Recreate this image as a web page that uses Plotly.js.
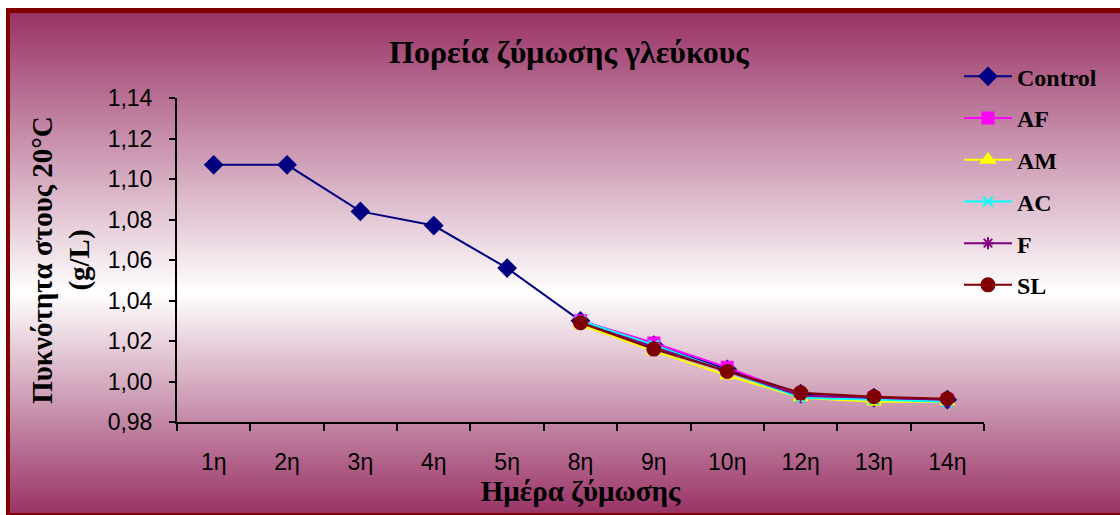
<!DOCTYPE html>
<html>
<head>
<meta charset="utf-8">
<script src="https://cdn.plot.ly/plotly-3.0.1.min.js"></script>
<style>
  html, body { margin: 0; padding: 0; background: #ffffff; width: 1120px; height: 515px; overflow: hidden; }
  #frame {
    position: absolute; left: 6px; top: 8px; width: 1120px; height: 500px;
    border-top: 5px solid #800000; border-left: 4px solid #800000; border-bottom: 2px solid #800000;
    background: linear-gradient(to bottom, #993366 0%, #ffffff 56%, #993366 100%);
    box-sizing: content-box;
  }
  #chart { position: absolute; left: 0; top: 0; width: 1120px; height: 515px; }
</style>
</head>
<body>
<div id="frame"></div>
<div id="chart"></div>
<script>
// Fermentation days
const days = ['1η', '2η', '3η', '4η', '5η', '8η', '9η', '10η', '12η', '13η', '14η'];

// Must density at 20°C (g/L) per treatment
const control = [1.107, 1.107, 1.084, 1.077, 1.056, 1.030, 1.018, 1.006, 0.994, 0.992, 0.991];
const af = [null, null, null, null, null, 1.030, 1.019, 1.007, 0.993, 0.992, 0.991];
const am = [null, null, null, null, null, 1.028, 1.015, 1.003, 0.992, 0.990, 0.990];
const ac = [null, null, null, null, null, 1.030, 1.018, 1.005, 0.992, 0.991, 0.990];
const f  = [null, null, null, null, null, 1.029, 1.017, 1.005, 0.993, 0.992, 0.991];
const sl = [null, null, null, null, null, 1.029, 1.016, 1.005, 0.9945, 0.9925, 0.9915];

const yTicks = [0.98, 1.00, 1.02, 1.04, 1.06, 1.08, 1.10, 1.12, 1.14];

const serif = 'Liberation Serif, Times New Roman, serif';
const sans = 'Liberation Sans, Arial, sans-serif';

function series(name, y, color, symbol, size, group) {
  return {
    type: 'scatter', mode: 'lines+markers', name: name, x: days, y: y,
    legendgroup: group,
    line: { color: color, width: 2 },
    marker: { color: color, symbol: symbol, size: size, line: { color: color, width: 2 } },
    connectgaps: false, hoverinfo: 'skip'
  };
}

const traces = [
  series('Control', control, '#000080', 'diamond', 13, 'g1'),
  series('AF', af, '#FF00FF', 'square', 11, 'g2'),
  series('AM', am, '#FFFF00', 'triangle-up', 12, 'g3'),
  series('AC', ac, '#00FFFF', 'x-thin-open', 10, 'g4'),
  series('F', f, '#800080', 'asterisk-open', 10, 'g5'),
  series('SL', sl, '#800000', 'circle', 13, 'g6')
];

const layout = {
  width: 1120, height: 515,
  paper_bgcolor: 'rgba(0,0,0,0)', plot_bgcolor: 'rgba(0,0,0,0)',
  separators: ',.',
  margin: { l: 177, r: 136, t: 98, b: 93 },
  showlegend: true,
  title: {
    text: 'Πορεία ζύμωσης γλεύκους',
    font: { family: serif, size: 32, color: '#000000', weight: 'bold' },
    x: 0.508, xanchor: 'center', y: 0.9, yanchor: 'middle'
  },
  xaxis: {
    type: 'category', categoryorder: 'array', categoryarray: days,
    range: [-0.5, 10.5],
    showline: true, linecolor: '#000000', linewidth: 2,
    ticks: 'outside', tickson: 'boundaries', ticklen: 7, tickwidth: 2, tickcolor: '#000000',
    ticklabelstandoff: 18,
    showgrid: false, zeroline: false,
    tickfont: { family: sans, size: 23, color: '#000000' },
    title: {
      text: 'Ημέρα ζύμωσης', standoff: 4,
      font: { family: serif, size: 29, color: '#000000', weight: 'bold' }
    }
  },
  yaxis: {
    range: [0.98, 1.14], tickvals: yTicks, tickformat: '.2f',
    showline: true, linecolor: '#000000', linewidth: 2,
    ticks: 'outside', ticklen: 6, tickwidth: 2, tickcolor: '#000000',
    ticklabelstandoff: 12,
    showgrid: false, zeroline: false,
    tickfont: { family: sans, size: 23, color: '#000000' },
    title: {
      text: 'Πυκνότητα στους 20°C<br>(g/L)', standoff: 9,
      font: { family: serif, size: 29, color: '#000000', weight: 'bold' }
    }
  },
  legend: {
    x: 0.969, xanchor: 'left', y: 1.135, yanchor: 'top',
    bgcolor: 'rgba(0,0,0,0)', borderwidth: 0,
    tracegroupgap: 7.5, itemwidth: 48,
    font: { family: serif, size: 24, color: '#000000', weight: 'bold' }
  }
};

Plotly.newPlot('chart', traces, layout, { staticPlot: true, displayModeBar: false });
</script>
</body>
</html>
